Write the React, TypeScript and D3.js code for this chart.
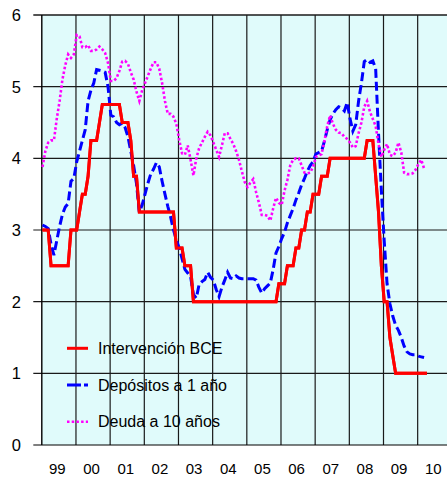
import React from "react";
import * as d3 from "d3";

// Monthly series, January 1999 onward
const startYear = 1999;

const intervencionBCE = [
  3.0, 3.0, 3.0, 2.5, 2.5, 2.5, 2.5, 2.5, 2.5, 2.5, 3.0, 3.0,
  3.0, 3.25, 3.5, 3.5, 3.75, 4.25, 4.25, 4.25, 4.5, 4.75, 4.75, 4.75,
  4.75, 4.75, 4.75, 4.75, 4.5, 4.5, 4.5, 4.25, 3.75, 3.75, 3.25, 3.25,
  3.25, 3.25, 3.25, 3.25, 3.25, 3.25, 3.25, 3.25, 3.25, 3.25, 3.25, 2.75,
  2.75, 2.75, 2.5, 2.5, 2.5, 2.0, 2.0, 2.0, 2.0, 2.0, 2.0, 2.0,
  2.0, 2.0, 2.0, 2.0, 2.0, 2.0, 2.0, 2.0, 2.0, 2.0, 2.0, 2.0,
  2.0, 2.0, 2.0, 2.0, 2.0, 2.0, 2.0, 2.0, 2.0, 2.0, 2.0, 2.25,
  2.25, 2.25, 2.5, 2.5, 2.5, 2.75, 2.75, 3.0, 3.0, 3.25, 3.25, 3.5,
  3.5, 3.5, 3.75, 3.75, 3.75, 4.0, 4.0, 4.0, 4.0, 4.0, 4.0, 4.0,
  4.0, 4.0, 4.0, 4.0, 4.0, 4.0, 4.25, 4.25, 4.25, 3.75, 3.25, 2.5,
  2.0, 2.0, 1.5, 1.25, 1.0, 1.0, 1.0, 1.0, 1.0, 1.0, 1.0, 1.0,
  1.0, 1.0, 1.0, 1.0,
];

const depositos1Ano = [
  3.07, 3.05, 3.02, 2.8, 2.65, 2.85, 3.05, 3.22, 3.32, 3.37, 3.68, 3.72,
  3.95, 4.1, 4.25, 4.4, 4.8, 4.95, 5.05, 5.24, 5.23, 5.22, 5.2, 5.0,
  4.6, 4.58, 4.5, 4.47, 4.49, 4.43, 4.3, 4.1, 3.9, 3.65, 3.25, 3.35,
  3.5, 3.65, 3.78, 3.85, 3.94, 3.88, 3.68, 3.5, 3.33, 3.18, 3.0, 2.86,
  2.75, 2.6, 2.45, 2.4, 2.35, 2.1, 2.05, 2.24, 2.28, 2.31, 2.41, 2.34,
  2.3, 2.17, 2.07, 2.2, 2.3, 2.41, 2.33, 2.32, 2.36, 2.33, 2.32, 2.32,
  2.32, 2.32, 2.32, 2.3, 2.2, 2.12, 2.18, 2.22, 2.26, 2.45, 2.68, 2.77,
  2.88, 2.97, 3.1, 3.2, 3.3, 3.42, 3.52, 3.63, 3.72, 3.82, 3.9, 3.95,
  4.06, 4.08, 4.1, 4.24, 4.4, 4.54, 4.62, 4.68, 4.72, 4.7, 4.66, 4.78,
  4.55, 4.38, 4.47, 4.8, 5.05, 5.35, 5.38, 5.34, 5.36, 5.25, 4.35, 3.55,
  2.85, 2.25, 1.97, 1.8, 1.67, 1.6, 1.5, 1.38, 1.3, 1.27, 1.26, 1.26,
  1.24, 1.23, 1.22,
];

const deuda10Anos = [
  3.88, 4.1, 4.22, 4.25, 4.25, 4.55, 4.8, 5.1, 5.3, 5.45, 5.4, 5.45,
  5.72, 5.7, 5.55, 5.55, 5.58, 5.5, 5.5, 5.52, 5.56, 5.52, 5.47, 5.33,
  5.08, 5.08, 5.12, 5.22, 5.35, 5.36, 5.32, 5.2, 5.1, 4.93, 4.8, 4.95,
  5.05, 5.15, 5.25, 5.34, 5.34, 5.25, 5.05, 4.8, 4.62, 4.62, 4.58, 4.48,
  4.26, 4.07, 4.05, 4.18, 3.98, 3.76, 4.0, 4.14, 4.22, 4.3, 4.37, 4.32,
  4.22, 4.12, 4.02, 4.18, 4.35, 4.35, 4.27, 4.2, 4.1, 3.98, 3.82, 3.67,
  3.6, 3.66, 3.71, 3.53, 3.38, 3.21, 3.21, 3.2, 3.13, 3.3, 3.45, 3.38,
  3.35, 3.55, 3.7, 3.9, 3.98, 4.0, 4.0, 3.9, 3.8, 3.79, 3.8, 3.88,
  4.02, 4.04, 4.06, 4.24, 4.45, 4.6, 4.48, 4.4, 4.36, 4.35, 4.3, 4.27,
  4.22, 4.15, 4.17, 4.35, 4.5, 4.72, 4.8, 4.65, 4.55, 4.45, 4.2, 4.02,
  4.12, 4.2, 4.05, 4.03, 4.08, 4.22, 4.08, 3.8, 3.78, 3.78, 3.79, 3.84,
  3.92, 3.98, 3.86,
];

const yTicks = [0, 1, 2, 3, 4, 5, 6];
const yearLabels = ["99", "00", "01", "02", "03", "04", "05", "06", "07", "08", "09", "10"];
const legendLabels = ["Intervención BCE", "Depósitos a 1 año", "Deuda a 10 años"];

const W = 447;
const H = 478;
const left = 41.8;
const top = 15;
const bottom = 445;
const yearWidth = 34.17;

export default function App() {
  const x = d3
    .scaleLinear()
    .domain([startYear, startYear + yearLabels.length])
    .range([left, left + yearWidth * yearLabels.length]);
  const y = d3.scaleLinear().domain([0, 6]).range([bottom, top]);

  const line = d3
    .line<number>()
    .x((_, i) => x(startYear + (i + 0.25) / 12))
    .y((d) => y(d));

  const years = d3.range(startYear, startYear + yearLabels.length + 1);

  const series = [
    { data: intervencionBCE, color: "#ff0000", dash: null as string | null, width: 3 },
    { data: depositos1Ano, color: "#0000ff", dash: "9,4", width: 3 },
    { data: deuda10Anos, color: "#ff00ff", dash: "2.5,2.2", width: 2.6 },
  ];

  const font = "'Liberation Sans', Arial, sans-serif";

  return (
    <svg
      width={W}
      height={H}
      style={{ position: "absolute", left: 0, top: 0, background: "#ffffff" }}
      fontFamily={font}
    >
      <rect x={left} y={top} width={W - left} height={bottom - top} fill="#e0fbfb" />
      {/* vertical grid */}
      {years.slice(1).map((yr) => (
        <line
          key={"v" + yr}
          x1={x(yr)}
          x2={x(yr)}
          y1={top}
          y2={bottom}
          stroke="#1a1a1a"
          strokeWidth={1.2}
        />
      ))}
      {/* horizontal grid + ticks */}
      {yTicks.map((t) => (
        <line
          key={"h" + t}
          x1={left - 8.5}
          x2={W}
          y1={y(t)}
          y2={y(t)}
          stroke={t === 0 ? "#000" : "#1a1a1a"}
          strokeWidth={t === 6 ? 1.6 : 1.2}
        />
      ))}
      <line x1={left} x2={left} y1={top} y2={bottom} stroke="#000" strokeWidth={1.4} />
      {yTicks.map((t) => (
        <text key={"yl" + t} x={21} y={y(t)} dy="0.36em" textAnchor="end" fontSize={16.5} fill="#000">
          {t}
        </text>
      ))}
      {yearLabels.map((lab, i) => (
        <text
          key={"xl" + lab}
          x={x(startYear + i + 0.5) - 1.5}
          y={474}
          textAnchor="middle"
          fontSize={15}
          fill="#000"
        >
          {lab}
        </text>
      ))}
      {series.map((s, i) => (
        <path
          key={"s" + i}
          d={line(s.data) || ""}
          fill="none"
          stroke={s.color}
          strokeWidth={s.width}
          strokeDasharray={s.dash || undefined}
          strokeLinejoin="miter"
        />
      ))}
      {/* redraw red on top */}
      <path d={line(intervencionBCE) || ""} fill="none" stroke="#ff0000" strokeWidth={3} strokeLinejoin="miter" />
      {legendLabels.map((lab, i) => {
        const ly = 348.3 + i * 36.7;
        const s = series[i];
        return (
          <g key={"lg" + i}>
            <line
              x1={67}
              x2={88}
              y1={ly}
              y2={ly}
              stroke={s.color}
              strokeWidth={s.width}
              strokeDasharray={i === 1 ? "14,3" : s.dash || undefined}
            />
            <text x={98} y={ly} dy="0.36em" fontSize={16} fill="#000">
              {lab}
            </text>
          </g>
        );
      })}
    </svg>
  );
}
